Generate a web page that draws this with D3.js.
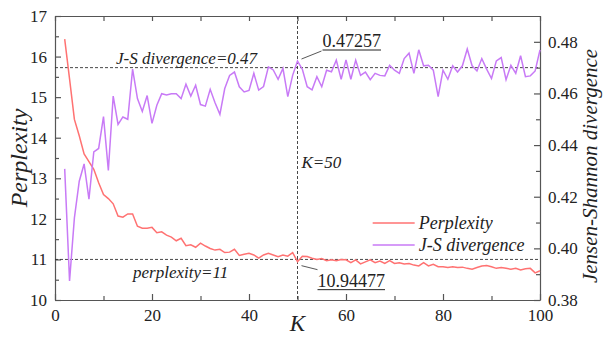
<!DOCTYPE html>
<html>
<head>
<meta charset="utf-8">
<script src="https://cdn.jsdelivr.net/npm/d3@7"></script>
<style>
  body { margin: 0; background: #fff; }
  svg text { fill: #222; }
  .axis path, .axis line { stroke: #555; stroke-width: 1.2; }
  .ref { stroke: #333; stroke-width: 0.9; stroke-dasharray: 3,2; fill: none; }
</style>
</head>
<body>
<svg id="chart" width="604" height="337"></svg>
<script>
// K values (number of topics)
const kValues = [2,3,4,5,6,7,8,9,10,11,12,13,14,15,16,17,18,19,20,21,22,23,24,25,26,27,28,29,30,31,32,33,34,35,36,37,38,39,40,41,42,43,44,45,46,47,48,49,50,51,52,53,54,55,56,57,58,59,60,61,62,63,64,65,66,67,68,69,70,71,72,73,74,75,76,77,78,79,80,81,82,83,84,85,86,87,88,89,90,91,92,93,94,95,96,97,98,99,100];

const perplexity = [16.43,15.45,14.45,14.05,13.6,13.41,13.22,12.89,12.6,12.5,12.37,12.07,12.04,12.12,12.12,11.82,11.77,11.77,11.79,11.66,
  11.68,11.6,11.55,11.46,11.52,11.34,11.36,11.3,11.4,11.33,11.27,11.23,11.25,11.17,11.18,11.25,11.1,11.13,11.15,11.11,
  11.03,11.11,11.15,11.11,11.07,11.11,11.08,11.17,10.94477,11.08,11.07,11.03,11.0,11.02,10.97,10.99,10.97,11.0,10.99,10.92,
  10.99,10.89,10.94,10.99,10.92,10.96,10.9,10.97,10.9,10.92,10.89,10.9,10.86,10.84,10.92,10.84,10.88,10.82,10.82,10.8,
  10.82,10.8,10.81,10.78,10.76,10.8,10.84,10.85,10.82,10.78,10.8,10.78,10.76,10.78,10.74,10.77,10.78,10.67,10.72];

const jsDivergence = [0.4308,0.3874,0.4118,0.426,0.4327,0.4191,0.4374,0.4387,0.451,0.4302,0.459,0.448,0.4509,0.45,0.4694,0.458,0.453,0.4592,0.4484,0.4554,
  0.4599,0.4594,0.4599,0.4599,0.458,0.4636,0.459,0.4632,0.4557,0.4551,0.4616,0.4564,0.4519,0.4619,0.467,0.4683,0.4626,0.4606,0.4612,0.4678,
  0.4613,0.4627,0.4703,0.4691,0.4655,0.4697,0.4588,0.467,0.47257,0.4694,0.4626,0.4614,0.4665,0.4626,0.469,0.4684,0.4729,0.4655,0.473,0.4655,
  0.4729,0.467,0.4683,0.4653,0.4678,0.467,0.4668,0.4709,0.469,0.4678,0.4735,0.4756,0.4678,0.4769,0.4707,0.4709,0.469,0.4588,0.469,0.4655,
  0.4707,0.4683,0.4707,0.4772,0.4707,0.4687,0.4735,0.4694,0.4658,0.4726,0.4739,0.4653,0.4709,0.4678,0.4746,0.4665,0.4668,0.4687,0.4769];

const xTicks = [0,20,40,60,80,100];
const xMinorTicks = [10,30,50,70,90];
const leftTicks = [10,11,12,13,14,15,16,17];
const leftMinorTicks = [10.5,11.5,12.5,13.5,14.5,15.5,16.5];
const rightTicks = [0.38,0.40,0.42,0.44,0.46,0.48];
const rightMinorTicks = [0.39,0.41,0.43,0.45,0.47];

const perplexityRef = 11;
const jsRef = 0.47;
const kRef = 50;

const serif = '"Liberation Serif", "Times New Roman", serif';

const margin = { top: 16, right: 64, bottom: 37, left: 55 };
const width = 604 - margin.left - margin.right;
const height = 337 - margin.top - margin.bottom;

const svg = d3.select('#chart').attr('font-family', serif);
const chart = svg.append('g').attr('transform', `translate(${margin.left}, ${margin.top})`);

const x = d3.scaleLinear().domain([0, 100]).range([0, width]);
const yLeft = d3.scaleLinear().domain([10, 17]).range([height, 0]);
const yRight = d3.scaleLinear().domain([0.38, 0.49]).range([height, 0]);

// axes, ticks inward
chart.append('g').attr('class', 'axis')
  .attr('transform', `translate(0, ${height})`)
  .call(d3.axisBottom(x).tickValues(xTicks).tickSize(-6).tickSizeOuter(0).tickPadding(9));
chart.append('g').attr('class', 'axis')
  .attr('transform', `translate(0, ${height})`)
  .call(d3.axisBottom(x).tickValues(xMinorTicks).tickSize(-4).tickFormat(''))
  .select('.domain').remove();
chart.append('g').attr('class', 'axis')
  .call(d3.axisTop(x).tickValues(xTicks.concat(xMinorTicks)).tickSize(-5).tickSizeOuter(0).tickFormat(''));

chart.append('g').attr('class', 'axis')
  .call(d3.axisLeft(yLeft).tickValues(leftTicks).tickSize(-6).tickSizeOuter(0).tickPadding(8).tickFormat(d3.format('d')));
chart.append('g').attr('class', 'axis')
  .call(d3.axisLeft(yLeft).tickValues(leftMinorTicks).tickSize(-4).tickFormat(''))
  .select('.domain').remove();

chart.append('g').attr('class', 'axis')
  .attr('transform', `translate(${width}, 0)`)
  .call(d3.axisRight(yRight).tickValues(rightTicks).tickSize(-6).tickSizeOuter(0).tickPadding(8).tickFormat(d3.format('.2f')));
chart.append('g').attr('class', 'axis')
  .attr('transform', `translate(${width}, 0)`)
  .call(d3.axisRight(yRight).tickValues(rightMinorTicks).tickSize(-4).tickFormat(''))
  .select('.domain').remove();

svg.selectAll('.axis').attr('font-family', serif).attr('font-size', 17);

// reference lines
chart.append('line').attr('class', 'ref')
  .attr('x1', 0).attr('x2', width).attr('y1', yRight(jsRef)).attr('y2', yRight(jsRef));
chart.append('line').attr('class', 'ref')
  .attr('x1', 0).attr('x2', width).attr('y1', yLeft(perplexityRef)).attr('y2', yLeft(perplexityRef));
chart.append('line').attr('class', 'ref')
  .attr('x1', x(kRef)).attr('x2', x(kRef)).attr('y1', 0).attr('y2', height);

// series
const perpLine = d3.line().x((d, i) => x(kValues[i])).y(d => yLeft(d));
const jsLine = d3.line().x((d, i) => x(kValues[i])).y(d => yRight(d));

chart.append('path').datum(perplexity)
  .attr('d', perpLine).attr('fill', 'none').attr('stroke', '#ff7272').attr('stroke-width', 1.5);
chart.append('path').datum(jsDivergence)
  .attr('d', jsLine).attr('fill', 'none').attr('stroke', '#c87af6').attr('stroke-width', 1.5);

// annotations
function note(tx, ty, str) {
  return chart.append('text').attr('x', tx).attr('y', ty)
    .style('font-style', 'italic').style('font-size', '17px').text(str);
}
note(61, yRight(jsRef) - 4, 'J-S divergence=0.47');
note(78, yLeft(perplexityRef) + 19, 'perplexity=11');
note(x(kRef) + 4, 152, 'K=50');

const kIdx = kValues.indexOf(kRef);
function callout(val, yPix, dx, dy, tx, ty) {
  const px0 = x(kRef), py = yPix;
  chart.append('line').attr('x1', px0 + 4).attr('y1', py + (dy > 0 ? 4 : -2))
    .attr('x2', px0 + dx).attr('y2', py + dy).attr('stroke', '#444').attr('stroke-width', 0.9);
  const t = chart.append('text').attr('x', px0 + tx).attr('y', py + ty)
    .style('font-size', '18px').text(val);
  const w = t.node().getComputedTextLength();
  chart.append('line').attr('x1', px0 + tx).attr('x2', px0 + tx + w)
    .attr('y1', py + ty + 3).attr('y2', py + ty + 3).attr('stroke', '#222').attr('stroke-width', 1);
}
callout(jsDivergence[kIdx].toFixed(5), yRight(jsDivergence[kIdx]), 24, -10, 25, -14);
callout(perplexity[kIdx].toFixed(5), yLeft(perplexity[kIdx]), 20, 8, 20, 25);

// legend
const legend = chart.append('g').attr('transform', `translate(${x(65.5)}, 207)`);
[['Perplexity', '#ff7272'], ['J-S divergence', '#c87af6']].forEach((e, i) => {
  legend.append('line').attr('x1', 0).attr('x2', 42).attr('y1', i * 22).attr('y2', i * 22)
    .attr('stroke', e[1]).attr('stroke-width', 1.5);
  legend.append('text').attr('x', 46).attr('y', i * 22).attr('dy', '0.35em')
    .style('font-style', 'italic').style('font-size', '18px').text(e[0]);
});

// axis titles
function title(tr, size, str) {
  svg.append('text').attr('transform', tr).attr('text-anchor', 'middle')
    .style('font-style', 'italic').style('font-size', size + 'px').text(str);
}
title('translate(27, 158) rotate(-90)', 24, 'Perplexity');
title(`translate(${margin.left + x(50)}, 331)`, 23, 'K');
title('translate(597, 166) rotate(-90)', 21, 'Jensen-Shannon divergence');
</script>
</body>
</html>
